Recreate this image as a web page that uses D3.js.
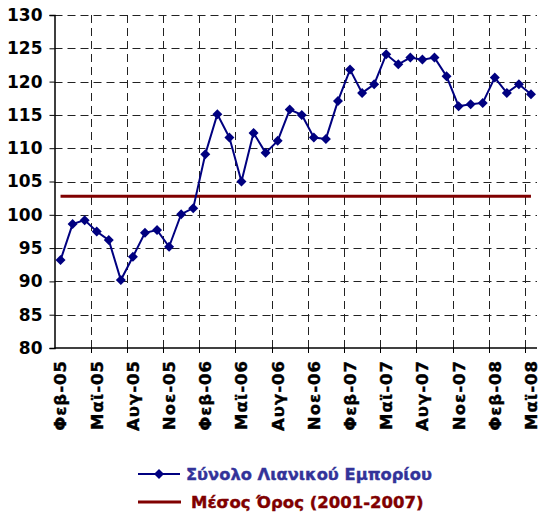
<!DOCTYPE html>
<html>
<head>
<meta charset="utf-8">
<script src="https://d3js.org/d3.v7.min.js"></script>
<style>
  body { margin: 0; background: #fff; }
  svg text { font-family: 'DejaVu Sans', Verdana, sans-serif; font-weight: bold; }
</style>
</head>
<body>
<svg id="svg" width="541" height="515"></svg>
<script>
// monthly index, Feb-05 .. May-08
const months = ["Φεβ-05","Μαρ-05","Απρ-05","Μαϊ-05","Ιουν-05","Ιουλ-05","Αυγ-05","Σεπ-05","Οκτ-05","Νοε-05","Δεκ-05",
  "Ιαν-06","Φεβ-06","Μαρ-06","Απρ-06","Μαϊ-06","Ιουν-06","Ιουλ-06","Αυγ-06","Σεπ-06","Οκτ-06","Νοε-06","Δεκ-06",
  "Ιαν-07","Φεβ-07","Μαρ-07","Απρ-07","Μαϊ-07","Ιουν-07","Ιουλ-07","Αυγ-07","Σεπ-07","Οκτ-07","Νοε-07","Δεκ-07",
  "Ιαν-08","Φεβ-08","Μαρ-08","Απρ-08","Μαϊ-08"];
const retail = [93.2, 98.6, 99.2, 97.5, 96.2, 90.2, 93.7, 97.3, 97.7, 95.2, 100.1,
  101.0, 109.1, 115.1, 111.6, 105.0, 112.3, 109.3, 111.1, 115.8, 115.0, 111.6, 111.4,
  117.1, 121.8, 118.3, 119.6, 124.1, 122.6, 123.6, 123.3, 123.6, 120.8, 116.3, 116.6,
  116.8, 120.6, 118.3, 119.6, 118.1];
const average = 102.8;
const yTicks = [80, 85, 90, 95, 100, 105, 110, 115, 120, 125, 130];
const seriesNames = ["Σύνολο Λιανικού Εμπορίου", "Μέσος Όρος (2001-2007)"];

const svg = d3.select("#svg");
const mLeft = 54.5, mRight = 537, mTop = 15, mBottom = 348;

const x = d3.scaleBand().domain(months).range([mLeft, mRight]).padding(0);
const y = d3.scaleLinear().domain([80, 130]).range([mBottom, mTop]);
const cx = d => x(d) + x.bandwidth() / 2;

// gridlines
const g = svg.append("g");
g.selectAll(".hgrid").data(yTicks.slice(1)).join("line")
  .attr("x1", mLeft).attr("x2", mRight)
  .attr("y1", d => Math.round(y(d)) + 0.5).attr("y2", d => Math.round(y(d)) + 0.5)
  .attr("stroke", "#222").attr("stroke-width", 1).attr("stroke-dasharray", "8,5");

const tickCats = months.filter((d, i) => i > 0 && i % 3 === 0);
g.selectAll(".vgrid").data(tickCats).join("line")
  .attr("x1", d => Math.round(x(d)) + 0.5).attr("x2", d => Math.round(x(d)) + 0.5)
  .attr("y1", mTop).attr("y2", mBottom)
  .attr("stroke", "#222").attr("stroke-width", 1).attr("stroke-dasharray", "8,5");

// axes
const yAxis = d3.axisLeft(y).tickValues(yTicks).tickSize(5).tickPadding(7);
const ya = svg.append("g").attr("transform", `translate(${mLeft},0)`).call(yAxis);
ya.select(".domain").attr("stroke-width", 1.5);
ya.selectAll("text").style("font-size", "17px").style("font-weight", "bold").attr("fill", "#000");

svg.append("line").attr("x1", mLeft).attr("x2", mRight).attr("y1", mBottom).attr("y2", mBottom)
  .attr("stroke", "#000").attr("stroke-width", 1.5);
svg.selectAll(".xtick").data(tickCats).join("line")
  .attr("x1", d => Math.round(x(d)) + 0.5).attr("x2", d => Math.round(x(d)) + 0.5)
  .attr("y1", mBottom).attr("y2", mBottom + 5).attr("stroke", "#000");

const labelCats = months.filter((d, i) => i % 3 === 0);
svg.selectAll(".xlab").data(labelCats).join("text")
  .attr("transform", d => `translate(${cx(d)},${mBottom + 12}) rotate(-90)`)
  .attr("text-anchor", "end").attr("dy", "0.36em")
  .style("font-size", "16.5px").style("font-weight", "bold").style("letter-spacing", "1px")
  .attr("fill", "#000").attr("stroke", "#000").attr("stroke-width", 0.4)
  .text(d => d);

// average line
svg.append("line")
  .attr("x1", cx(months[0])).attr("x2", cx(months[months.length - 1]))
  .attr("y1", y(average)).attr("y2", y(average))
  .attr("stroke", "#800000").attr("stroke-width", 3);

// series
const line = d3.line().x((d, i) => cx(months[i])).y(d => y(d));
svg.append("path").datum(retail).attr("d", line)
  .attr("fill", "none").attr("stroke", "#000080").attr("stroke-width", 2);

const diamond = r => `M0,${-r}L${r},0L0,${r}L${-r},0Z`;
svg.selectAll(".pt").data(retail).join("path")
  .attr("d", diamond(5))
  .attr("transform", (d, i) => `translate(${cx(months[i])},${y(d)})`)
  .attr("fill", "#000080");

// legend
const lg = svg.append("g");
lg.append("line").attr("x1", 138).attr("x2", 180).attr("y1", 474).attr("y2", 474)
  .attr("stroke", "#000080").attr("stroke-width", 2);
lg.append("path").attr("d", diamond(5)).attr("transform", "translate(159,474)").attr("fill", "#000080");
lg.append("text").attr("x", 186).attr("y", 474).attr("dy", "0.36em")
  .style("font-size", "16.3px").attr("fill", "#333399")
  .attr("stroke", "#333399").attr("stroke-width", 0.4).text(seriesNames[0]);

lg.append("line").attr("x1", 138).attr("x2", 181).attr("y1", 502).attr("y2", 502)
  .attr("stroke", "#800000").attr("stroke-width", 3);
lg.append("text").attr("x", 191).attr("y", 502).attr("dy", "0.36em")
  .style("font-size", "16.5px").attr("fill", "#800000")
  .attr("stroke", "#800000").attr("stroke-width", 0.4).text(seriesNames[1]);
</script>
</body>
</html>
